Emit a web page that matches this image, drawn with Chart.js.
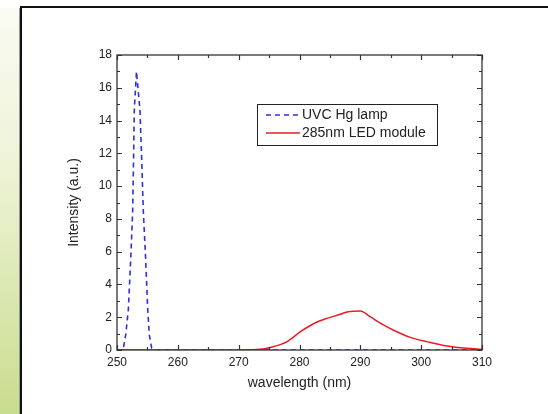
<!DOCTYPE html>
<html>
<head>
<meta charset="utf-8">
<script src="https://cdn.jsdelivr.net/npm/chart.js@4"></script>
<style>
    html, body { margin: 0; padding: 0; background: #fff; }
    #wrap { width: 548px; height: 414px; }
</style>
</head>
<body>
<div id="wrap"><canvas id="spectrum" width="548" height="414"></canvas></div>
<script>
// UVC Hg lamp spectrum (nm, a.u.)
const hgWavelength = [250, 251, 251.43, 251.86, 252.25, 252.58, 252.72, 252.84, 253.2, 253.78, 254.06, 254.32, 254.72, 255.05, 255.31, 255.7, 256.2, 260, 270, 280, 290, 300, 310];
const hgIntensity  = [0, 0, 0.92, 2.44, 5.5, 8.5, 11.6, 14.6, 17.0, 14.6, 11.6, 8.5, 5.5, 2.44, 0.92, 0.12, 0.02, 0, 0, 0, 0, 0, 0];

// 285nm LED module spectrum
const ledWavelength = [250, 260, 270, 272, 273.5, 275, 277.9, 280.1, 282.3, 284.5, 286.7, 288, 290, 291.6, 293.8, 295.4, 298.2, 300.9, 304.2, 307.5, 310];
const ledIntensity  = [0, 0, 0, 0.01, 0.04, 0.14, 0.5, 1.1, 1.6, 1.93, 2.18, 2.34, 2.38, 2.03, 1.53, 1.22, 0.77, 0.51, 0.24, 0.1, 0.05];

const seriesNames = ["UVC Hg lamp", "285nm LED module"];

const xTicks = [250, 260, 270, 280, 290, 300, 310];
const yTicks = [0, 2, 4, 6, 8, 10, 12, 14, 16, 18];

const FONT = "'Liberation Sans', Arial, sans-serif";

function toPoints(xs, ys) {
    return xs.map((x, i) => ({ x: x, y: ys[i] }));
}

// page frame and left green strip
const backdrop = {
    id: "backdrop",
    beforeDraw(chart) {
        const c = chart.ctx;
        c.save();
        c.fillStyle = "#fff";
        c.fillRect(0, 0, chart.width, chart.height);
        const g = c.createLinearGradient(0, 0, 0, chart.height);
        g.addColorStop(0, "#fbfbf4");
        g.addColorStop(0.4, "#eef3d6");
        g.addColorStop(1, "#c8dd8e");
        c.fillStyle = g;
        c.fillRect(0, 8, 20, chart.height);
        c.strokeStyle = "#9a9a9a";
        c.lineWidth = 1;
        c.beginPath();
        c.moveTo(19.5, 8); c.lineTo(19.5, chart.height);
        c.stroke();
        c.strokeStyle = "#111";
        c.lineWidth = 2;
        c.beginPath();
        c.moveTo(21, chart.height);
        c.lineTo(21, 7);
        c.lineTo(chart.width, 7);
        c.stroke();
        c.restore();
    }
};

// plot box with inward ticks on all four sides
const axisBox = {
    id: "axisBox",
    afterDatasetsDraw(chart) {
        const c = chart.ctx;
        const a = chart.chartArea;
        const xs = chart.scales.x;
        const ys = chart.scales.y;
        c.save();
        c.strokeStyle = "#333";
        c.lineWidth = 1.3;
        c.strokeRect(a.left, a.top, a.right - a.left, a.bottom - a.top);
        c.lineWidth = 1.2;
        c.beginPath();
        for (let v = xs.min; v <= xs.max; v += 5) {
            const px = Math.round(xs.getPixelForValue(v)) + 0.5;
            const len = v % 10 === 0 ? 5 : 3;
            c.moveTo(px, a.bottom); c.lineTo(px, a.bottom - len);
            c.moveTo(px, a.top); c.lineTo(px, a.top + len);
        }
        for (let v = ys.min; v <= ys.max; v += 1) {
            const py = Math.round(ys.getPixelForValue(v)) + 0.5;
            const len = v % 2 === 0 ? 5 : 3;
            c.moveTo(a.left, py); c.lineTo(a.left + len, py);
            c.moveTo(a.right, py); c.lineTo(a.right - len, py);
        }
        c.stroke();
        c.restore();
    }
};

// boxed legend inside the plot
const boxLegend = {
    id: "boxLegend",
    afterDraw(chart) {
        const c = chart.ctx;
        const bx = 257, by = 104, bw = 180, bh = 41;
        c.save();
        c.fillStyle = "#fff";
        c.fillRect(bx, by, bw, bh);
        c.strokeStyle = "#222";
        c.lineWidth = 1;
        c.strokeRect(bx + 0.5, by + 0.5, bw, bh);
        c.font = "14px " + FONT;
        c.textBaseline = "middle";
        seriesNames.forEach((name, i) => {
            const ds = chart.data.datasets[i];
            const y = by + 11 + i * 18;
            c.strokeStyle = ds.borderColor;
            c.lineWidth = ds.borderWidth;
            c.setLineDash(ds.borderDash || []);
            c.beginPath();
            c.moveTo(266, y); c.lineTo(300, y);
            c.stroke();
            c.setLineDash([]);
            c.fillStyle = "#222";
            c.fillText(name, 302, y);
        });
        c.restore();
    }
};

new Chart(document.getElementById("spectrum"), {
    type: "line",
    data: {
        datasets: [{
            label: seriesNames[0],
            data: toPoints(hgWavelength, hgIntensity),
            borderColor: "#2f2fe0",
            borderWidth: 1.6,
            borderDash: [5, 4],
            pointRadius: 0,
            tension: 0,
            order: 1
        }, {
            label: seriesNames[1],
            data: toPoints(ledWavelength, ledIntensity),
            borderColor: "#ea1c24",
            borderWidth: 1.5,
            pointRadius: 0,
            cubicInterpolationMode: "monotone",
            order: 0
        }]
    },
    options: {
        responsive: false,
        animation: false,
        layout: {
            padding: { left: 62, top: 55, right: 66, bottom: 18 }
        },
        plugins: {
            legend: { display: false },
            tooltip: { enabled: false }
        },
        scales: {
            x: {
                type: "linear",
                min: 250,
                max: 310,
                afterBuildTicks: scale => { scale.ticks = xTicks.map(v => ({ value: v })); },
                afterFit: scale => { scale.height = 46; },
                grid: { display: false, drawTicks: false },
                border: { display: false },
                ticks: {
                    padding: 5,
                    color: "#222",
                    font: { family: FONT, size: 12 }
                },
                title: {
                    display: true,
                    text: "wavelength (nm)",
                    color: "#222",
                    font: { family: FONT, size: 14 }
                }
            },
            y: {
                min: 0,
                max: 18,
                afterBuildTicks: scale => { scale.ticks = yTicks.map(v => ({ value: v })); },
                afterFit: scale => { scale.width = 55; },
                grid: { display: false, drawTicks: false },
                border: { display: false },
                ticks: {
                    padding: 5,
                    color: "#222",
                    font: { family: FONT, size: 12 }
                },
                title: {
                    display: true,
                    text: "Intensity (a.u.)",
                    color: "#222",
                    font: { family: FONT, size: 14 }
                }
            }
        }
    },
    plugins: [backdrop, axisBox, boxLegend]
});
</script>
</body>
</html>
